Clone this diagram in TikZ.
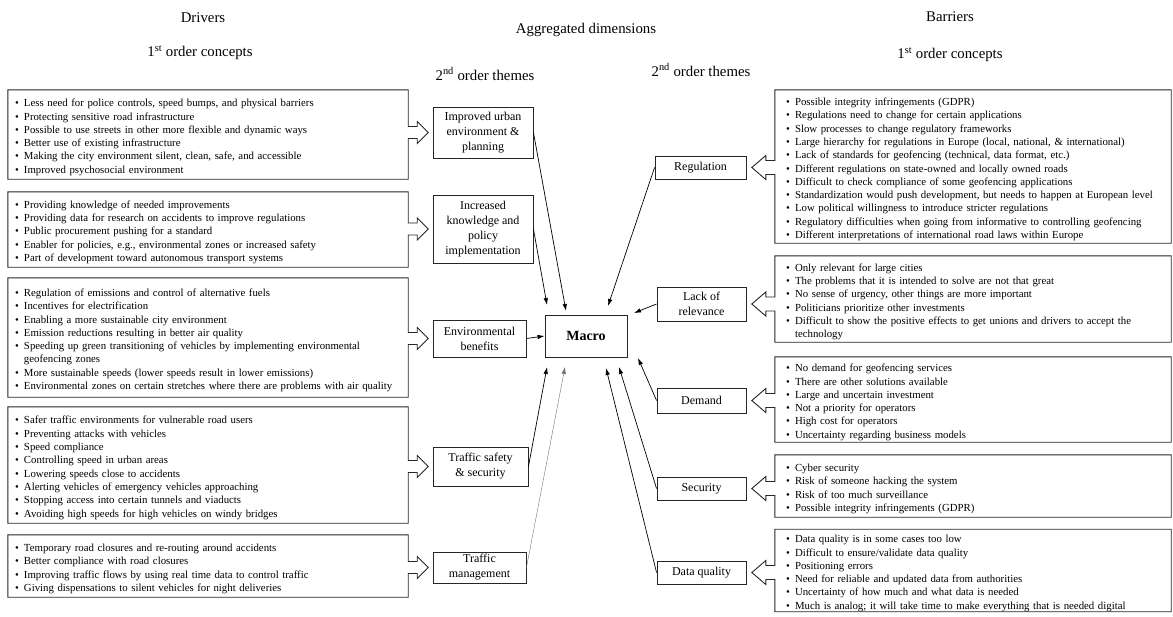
\documentclass[tikz,border=0pt]{standalone}
\usepackage{fontspec}
\setmainfont{Liberation Serif}
\usetikzlibrary{calc,arrows.meta}
\newcommand\bitem[1]{\par\noindent\hangindent=9pt\hangafter=1\makebox[9pt][l]{\textbullet}#1}
\newcommand\leftout[2]{%
  \draw[outline] (#1.north west) -- (#1.north east) -- ($(#1.east |- #2.center)+(0,-6)$) -- ++(9,0) -- ++(0,-5)
   -- ($(#1.east |- #2.center)+(20,0)$) -- ($(#1.east |- #2.center)+(9,11)$) -- ++(0,-5) -- ++(-9,0)
   -- (#1.south east) -- (#1.south west) -- cycle;}
\newcommand\rightout[2]{%
  \draw[outline] (#1.north east) -- (#1.north west) -- ($(#1.west |- #2.center)+(0,-7)$) -- ++(-9,0) -- ++(0,-5)
   -- ($(#1.west |- #2.center)+(-23,0)$) -- ($(#1.west |- #2.center)+(-9,12)$) -- ++(0,-5) -- ++(9,0)
   -- (#1.south west) -- (#1.south east) -- cycle;}
\tikzset{
  concept/.style={draw=none, inner xsep=7pt, inner ysep=0pt, align=left, font=\fontsize{10.8}{13.3}\selectfont},
  rconcept/.style={concept, inner xsep=11pt},
  theme/.style={draw=black!85, line width=0.9pt, align=center, inner sep=0pt, font=\fontsize{12}{15}\selectfont},
  outline/.style={draw=black!85, line width=0.9pt},
  link/.style={draw=black, line width=0.7pt, -{Latex[length=7pt,width=4.5pt]}},
  faint/.style={draw=black!55, line width=0.4pt, -{Latex[length=7pt,width=4.5pt]}},
  header/.style={font=\fontsize{14.8}{17}\selectfont, inner sep=0pt},
}
\begin{document}
\begin{tikzpicture}[x=1pt,y=-1pt]
\useasboundingbox (0,0) rectangle (1173,616);
% headers
\node[header] (hd) at (203,18) {Drivers};
\node[header] (hc1) at (200,53) {1\textsuperscript{st} order concepts};
\node[header] (ha) at (586,30) {Aggregated dimensions};
\node[header] (ht1) at (485,74) {2\textsuperscript{nd} order themes};
\node[header] (ht2) at (701,70) {2\textsuperscript{nd} order themes};
\node[header] (hb) at (950,17) {Barriers};
\node[header] (hc2) at (950,55) {1\textsuperscript{st} order concepts};
% left themes
\node[theme, minimum width=100pt, minimum height=51pt] (T1) at (483,132.5) {Improved urban\\environment \&\\planning};
\node[theme, minimum width=100pt, minimum height=68pt] (T2) at (483,229) {Increased\\knowledge and\\policy\\implementation};
\node[theme, minimum width=93pt, minimum height=37pt] (T3) at (479.5,338.5) {Environmental\\benefits};
\node[theme, minimum width=95pt, minimum height=39pt] (T4) at (480.5,466.5) {Traffic safety\\\& security};
\node[theme, minimum width=93pt, minimum height=31pt] (T5) at (479.5,567.5) {Traffic\\management};
% macro
\node[theme, minimum width=82pt, minimum height=42pt, font=\fontsize{14}{16}\selectfont\bfseries] (M) at (586,336) {Macro};
% right themes
\node[theme, minimum width=91pt, minimum height=23pt] (R1) at (700.5,167.5) {Regulation};
\node[theme, minimum width=89pt, minimum height=34pt] (R2) at (701.5,304) {Lack of\\relevance};
\node[theme, minimum width=89pt, minimum height=25pt] (R3) at (701.5,400.5) {Demand};
\node[theme, minimum width=89pt, minimum height=23pt] (R4) at (701.5,488.5) {Security};
\node[theme, minimum width=89pt, minimum height=23pt] (R5) at (701.5,572.5) {Data quality};
% left concepts
\node[concept, text width=386pt, minimum height=89pt] (L1) at (208,134.5) {%
\bitem{Less need for police controls, speed bumps, and physical barriers}
\bitem{Protecting sensitive road infrastructure}
\bitem{Possible to use streets in other more flexible and dynamic ways}
\bitem{Better use of existing infrastructure}
\bitem{Making the city environment silent, clean, safe, and accessible}
\bitem{Improved psychosocial environment}\par};
\node[concept, text width=386pt, minimum height=75pt] (L2) at (208,229.5) {%
\bitem{Providing knowledge of needed improvements}
\bitem{Providing data for research on accidents to improve regulations}
\bitem{Public procurement pushing for a standard}
\bitem{Enabler for policies, e.g., environmental zones or increased safety}
\bitem{Part of development toward autonomous transport systems}\par};
\node[concept, text width=386pt, minimum height=119pt] (L3) at (208,337.5) {%
\bitem{Regulation of emissions and control of alternative fuels}
\bitem{Incentives for electrification}
\bitem{Enabling a more sustainable city environment}
\bitem{Emission reductions resulting in better air quality}
\bitem{Speeding up green transitioning of vehicles by implementing environmental\newline geofencing zones}
\bitem{More sustainable speeds (lower speeds result in lower emissions)}
\bitem{Environmental zones on certain stretches where there are problems with air quality}\par};
\node[concept, text width=386pt, minimum height=116pt] (L4) at (208,465) {%
\bitem{Safer traffic environments for vulnerable road users}
\bitem{Preventing attacks with vehicles}
\bitem{Speed compliance}
\bitem{Controlling speed in urban areas}
\bitem{Lowering speeds close to accidents}
\bitem{Alerting vehicles of emergency vehicles approaching}
\bitem{Stopping access into certain tunnels and viaducts}
\bitem{Avoiding high speeds for high vehicles on windy bridges}\par};
\node[concept, text width=386pt, minimum height=62pt] (L5) at (208,566) {%
\bitem{Temporary road closures and re-routing around accidents}
\bitem{Better compliance with road closures}
\bitem{Improving traffic flows by using real time data to control traffic}
\bitem{Giving dispensations to silent vehicles for night deliveries}\par};
% right concepts
\node[rconcept, text width=374pt, minimum height=153pt] (C1) at (973,166.5) {%
\bitem{Possible integrity infringements (GDPR)}
\bitem{Regulations need to change for certain applications}
\bitem{Slow processes to change regulatory frameworks}
\bitem{Large hierarchy for regulations in Europe (local, national, \& international)}
\bitem{Lack of standards for geofencing (technical, data format, etc.)}
\bitem{Different regulations on state-owned and locally owned roads}
\bitem{Difficult to check compliance of some geofencing applications}
\bitem{Standardization would push development, but needs to happen at European level}
\bitem{Low political willingness to introduce stricter regulations}
\bitem{Regulatory difficulties when going from informative to controlling geofencing}
\bitem{Different interpretations of international road laws within Europe}\par};
\node[rconcept, text width=374pt, minimum height=86pt] (C2) at (973,299) {%
\bitem{Only relevant for large cities}
\bitem{The problems that it is intended to solve are not that great}
\bitem{No sense of urgency, other things are more important}
\bitem{Politicians prioritize other investments}
\bitem{Difficult to show the positive effects to get unions and drivers to accept the\newline technology}\par};
\node[rconcept, text width=374pt, minimum height=85pt] (C3) at (973,399.5) {%
\bitem{No demand for geofencing services}
\bitem{There are other solutions available}
\bitem{Large and uncertain investment}
\bitem{Not a priority for operators}
\bitem{High cost for operators}
\bitem{Uncertainty regarding business models}\par};
\node[rconcept, text width=374pt, minimum height=62pt] (C4) at (973,486) {%
\bitem{Cyber security}
\bitem{Risk of someone hacking the system}
\bitem{Risk of too much surveillance}
\bitem{Possible integrity infringements (GDPR)}\par};
\node[rconcept, text width=374pt, minimum height=79pt] (C5) at (973,570.5) {%
\bitem{Data quality is in some cases too low}
\bitem{Difficult to ensure/validate data quality}
\bitem{Positioning errors}
\bitem{Need for reliable and updated data from authorities}
\bitem{Uncertainty of how much and what data is needed}
\bitem{Much is analog; it will take time to make everything that is needed digital}\par};
% outlines with block arrows
\leftout{L1}{T1}
\leftout{L2}{T2}
\leftout{L3}{T3}
\leftout{L4}{T4}
\leftout{L5}{T5}
\rightout{C1}{R1}
\rightout{C2}{R2}
\rightout{C3}{R3}
\rightout{C4}{R4}
\rightout{C5}{R5}
% arrow ends near Macro
\coordinate (e1) at (566,311);
\coordinate (e2) at (547,305);
\coordinate (e4) at (547,367);
\coordinate (e5) at (565,367);
\coordinate (f1) at (608,306);
\coordinate (f2) at (634,313);
\coordinate (f3) at (638,358);
\coordinate (f4) at (619,367);
\coordinate (f5) at (606,368);
\draw[link] (T1.east) -- (e1);
\draw[link] (T2.east) -- (e2);
\draw[link] (T3.east) -- (M.west);
\draw[link] (T4.east) -- (e4);
\draw[faint] (T5.east) -- (e5);
\draw[link] (R1.west) -- (f1);
\draw[link] (R2.west) -- (f2);
\draw[link] (R3.west) -- (f3);
\draw[link] (R4.west) -- (f4);
\draw[link] (R5.west) -- (f5);
\end{tikzpicture}
\end{document}
